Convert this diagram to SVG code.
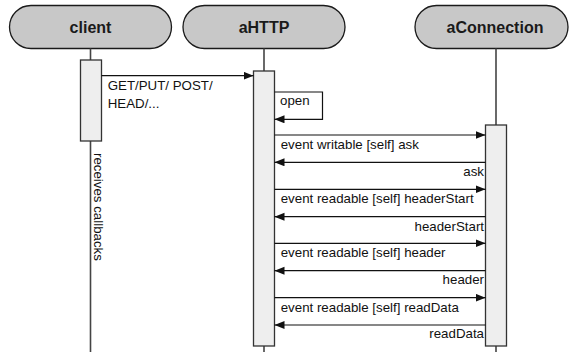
<svg xmlns="http://www.w3.org/2000/svg" width="570" height="352" viewBox="0 0 570 352">
<style>
.pill{fill:#c8c8c8;stroke:#1a1a1a;stroke-width:1.3}
.hdr{font-family:"Liberation Sans",Arial,sans-serif;font-weight:bold;font-size:16px;fill:#1a1a1a;text-anchor:middle}
.life{stroke:#444;stroke-width:1.6;fill:none}
.act{fill:#eeeeee;stroke:#333;stroke-width:1.3}
.msg{stroke:#111;stroke-width:1.2;fill:none}
.lbl{font-family:"Liberation Sans",Arial,sans-serif;font-size:13.3px;fill:#111}
.r{text-anchor:end}
</style>
<defs>
<marker id="ah" markerUnits="userSpaceOnUse" markerWidth="12" markerHeight="10" refX="10" refY="4" orient="auto">
<path d="M0,0 L10,4 L0,8 Z" fill="#111"/>
</marker>
</defs>
<g id="client">
<rect class="pill" x="9.5" y="5.5" width="162" height="43" rx="21.5"/>
<text class="hdr" x="90.5" y="33">client</text>
<line class="life" x1="90.5" y1="48.5" x2="90.5" y2="60"/>
<line class="life" x1="90.5" y1="141" x2="90.5" y2="352"/>
<rect class="act" x="80.5" y="60" width="21" height="81"/>
<text class="lbl" transform="translate(93.5,153) rotate(90)">receives callbacks</text>
</g>
<g id="aHTTP">
<rect class="pill" x="183" y="5.5" width="162" height="43" rx="21.5"/>
<text class="hdr" x="264" y="33">aHTTP</text>
<line class="life" x1="264" y1="48.5" x2="264" y2="71"/>
<line class="life" x1="264" y1="346" x2="264" y2="352"/>
<rect class="act" x="253.5" y="71" width="21" height="275"/>
</g>
<g id="aConnection">
<rect class="pill" x="415" y="5.5" width="153" height="43" rx="21.5"/>
<text class="hdr" x="495" y="33">aConnection</text>
<line class="life" x1="496" y1="48.5" x2="496" y2="125"/>
<line class="life" x1="496" y1="346" x2="496" y2="352"/>
<rect class="act" x="485.5" y="125" width="21" height="221"/>
</g>
<g id="connectors">
<line class="msg" x1="101.5" y1="75.7" x2="253.5" y2="75.7" marker-end="url(#ah)"/>
<text class="lbl" x="107.7" y="90">GET/PUT/ POST/</text>
<text class="lbl" x="107.7" y="108">HEAD/...</text>
<polyline class="msg" points="274.5,92 322.5,92 322.5,119.3 274.5,119.3" marker-end="url(#ah)"/>
<text class="lbl" x="280" y="105">open</text>
<line class="msg" x1="274.5" y1="135" x2="485.5" y2="135" marker-end="url(#ah)"/>
<text class="lbl" x="280.7" y="149">event writable [self] ask</text>
<line class="msg" x1="485.5" y1="162.3" x2="274.5" y2="162.3" marker-end="url(#ah)"/>
<text class="lbl r" x="484" y="176">ask</text>
<line class="msg" x1="274.5" y1="189.3" x2="485.5" y2="189.3" marker-end="url(#ah)"/>
<text class="lbl" x="280.7" y="203">event readable [self] headerStart</text>
<line class="msg" x1="485.5" y1="216.7" x2="274.5" y2="216.7" marker-end="url(#ah)"/>
<text class="lbl r" x="484" y="230.5">headerStart</text>
<line class="msg" x1="274.5" y1="243.3" x2="485.5" y2="243.3" marker-end="url(#ah)"/>
<text class="lbl" x="280.7" y="257">event readable [self] header</text>
<line class="msg" x1="485.5" y1="270.7" x2="274.5" y2="270.7" marker-end="url(#ah)"/>
<text class="lbl r" x="484" y="284">header</text>
<line class="msg" x1="274.5" y1="297.7" x2="485.5" y2="297.7" marker-end="url(#ah)"/>
<text class="lbl" x="280.7" y="311.5">event readable [self] readData</text>
<line class="msg" x1="485.5" y1="325" x2="274.5" y2="325" marker-end="url(#ah)"/>
<text class="lbl r" x="484" y="338">readData</text>
</g>
</svg>
